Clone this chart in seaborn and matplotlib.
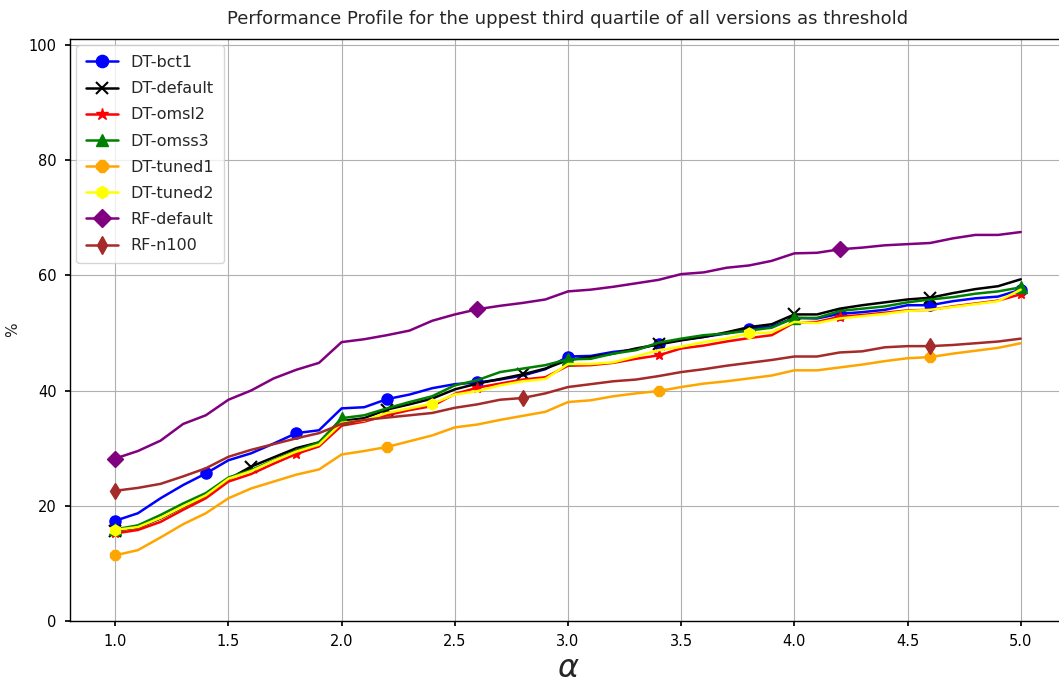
import numpy as np
import matplotlib
matplotlib.use("Agg")
import matplotlib.pyplot as plt
import seaborn as sns

alpha = [round(1.0 + 0.1 * i, 1) for i in range(41)]

dt_bct1 = [17.4, 18.7, 21.3, 23.6, 25.6, 27.9, 29.1, 30.8, 32.6, 33.1,
           36.9, 37.1, 38.5, 39.3, 40.4, 41.1, 41.4, 41.9, 42.6, 43.7,
           45.9, 46.0, 46.7, 47.1, 48.1, 48.8, 49.3, 49.9, 50.7, 51.1,
           52.6, 52.5, 53.3, 53.6, 54.0, 54.8, 54.8, 55.5, 56.0, 56.3, 57.5]
dt_default = [15.7, 16.2, 17.8, 19.8, 21.7, 24.6, 26.8, 28.4, 30.0, 31.0,
              34.7, 35.2, 36.7, 37.6, 38.6, 40.2, 41.2, 42.0, 42.8, 43.8,
              45.3, 45.8, 46.4, 47.3, 48.0, 48.7, 49.3, 50.1, 51.0, 51.5,
              53.2, 53.2, 54.2, 54.8, 55.3, 55.8, 56.1, 56.9, 57.6, 58.1, 59.3]
dt_omsl2 = [15.2, 15.8, 17.2, 19.3, 21.3, 24.2, 25.5, 27.3, 29.0, 30.3,
            33.9, 34.6, 35.7, 36.6, 37.3, 39.4, 40.5, 41.2, 41.9, 42.3,
            44.3, 44.4, 44.8, 45.5, 46.1, 47.3, 47.8, 48.5, 49.1, 49.6,
            51.8, 51.9, 52.8, 53.1, 53.5, 53.9, 54.0, 54.6, 55.1, 55.6, 56.7]
dt_omss3 = [15.9, 16.6, 18.4, 20.4, 22.2, 24.9, 26.2, 27.9, 29.6, 31.0,
            35.2, 35.7, 36.9, 38.0, 39.0, 40.9, 41.8, 43.2, 43.8, 44.4,
            45.4, 45.5, 46.4, 47.0, 48.3, 49.0, 49.6, 49.9, 50.4, 50.9,
            52.6, 52.6, 53.8, 54.2, 54.6, 55.3, 55.8, 56.2, 56.8, 57.2, 57.9]
dt_tuned1 = [11.4, 12.3, 14.5, 16.8, 18.7, 21.3, 23.0, 24.2, 25.4, 26.3,
             28.9, 29.5, 30.2, 31.2, 32.2, 33.6, 34.1, 34.9, 35.6, 36.3,
             38.0, 38.3, 39.0, 39.5, 39.9, 40.6, 41.2, 41.6, 42.1, 42.6,
             43.5, 43.5, 44.0, 44.5, 45.1, 45.6, 45.8, 46.4, 46.9, 47.4, 48.2]
dt_tuned2 = [15.8, 16.3, 17.9, 19.9, 21.8, 24.7, 26.0, 27.8, 29.4, 30.6,
             34.4, 34.8, 36.1, 36.9, 37.7, 39.3, 39.9, 40.9, 41.6, 42.0,
             44.6, 44.6, 44.9, 45.9, 47.0, 47.6, 48.4, 49.0, 49.9, 50.1,
             51.9, 51.7, 52.5, 52.9, 53.3, 53.8, 54.0, 54.5, 55.0, 55.5, 57.5]
rf_default = [28.2, 29.5, 31.3, 34.2, 35.7, 38.4, 40.0, 42.1, 43.6, 44.8,
              48.4, 48.9, 49.6, 50.4, 52.1, 53.2, 54.1, 54.7, 55.2, 55.8,
              57.2, 57.5, 58.0, 58.6, 59.2, 60.2, 60.5, 61.3, 61.7, 62.5,
              63.8, 63.9, 64.5, 64.8, 65.2, 65.4, 65.6, 66.4, 67.0, 67.0, 67.5]
rf_n100 = [22.6, 23.1, 23.8, 25.1, 26.5, 28.5, 29.7, 30.7, 31.7, 32.6,
           34.2, 34.9, 35.3, 35.7, 36.1, 37.0, 37.6, 38.4, 38.7, 39.5,
           40.6, 41.1, 41.6, 41.9, 42.5, 43.2, 43.7, 44.3, 44.8, 45.3,
           45.9, 45.9, 46.6, 46.8, 47.5, 47.7, 47.7, 47.9, 48.2, 48.5, 49.0]

series_names = ["DT-bct1", "DT-default", "DT-omsl2", "DT-omss3",
                "DT-tuned1", "DT-tuned2", "RF-default", "RF-n100"]
series_values = [dt_bct1, dt_default, dt_omsl2, dt_omss3,
                 dt_tuned1, dt_tuned2, rf_default, rf_n100]
colors = ["blue", "black", "red", "green", "orange", "yellow", "purple", "brown"]
markers = ["o", "x", "*", "^", "8", "h", "D", "d"]
mark_every = [4, 6, 8, 10, 12, 14, 16, 18]

sns.set_theme(style="ticks")
plt.rcParams['font.family'] = ['DejaVu Sans']

fig = plt.figure(figsize=(10.59, 6.88), dpi=100)
ax = fig.add_axes([70 / 1059, 1 - 621 / 688, 996 / 1059, (621 - 39) / 688])

for name, vals, c, m, me in zip(series_names, series_values, colors, markers, mark_every):
    sns.lineplot(x=alpha, y=vals, ax=ax, color=c, marker=m, markevery=me,
                 markersize=8, markeredgecolor=c, markerfacecolor=c,
                 markeredgewidth=1.5 if m == "x" else 1.0,
                 linewidth=1.8, label=name)

ax.set_xlim(0.8, 5.2)
ax.set_ylim(0, 101)
ax.set_xticks([1.0, 1.5, 2.0, 2.5, 3.0, 3.5, 4.0, 4.5, 5.0])
ax.set_xticklabels(["1.0", "1.5", "2.0", "2.5", "3.0", "3.5", "4.0", "4.5", "5.0"])
ax.set_yticks([0, 20, 40, 60, 80, 100])
ax.grid(True, color="#b0b0b0", linewidth=0.8)
for s in ax.spines.values():
    s.set_color("black")
    s.set_linewidth(1.0)
ax.tick_params(axis="both", labelsize=10.5, colors="black", direction="out",
               length=3.5, pad=6)

ax.set_title("Performance Profile for the uppest third quartile of all versions as threshold",
             fontsize=13, pad=11)
ax.set_xlabel(r"$\alpha$", fontsize=23, labelpad=3)
ax.set_ylabel("%", fontsize=11, labelpad=6)

leg = ax.legend(loc="upper left", fontsize=11.5, frameon=True, handlelength=2,
                labelspacing=0.7, markerscale=1.1, borderaxespad=0.4, borderpad=0.6)
leg.get_frame().set_edgecolor("#cccccc")

fig.savefig("out.png", dpi=100)
